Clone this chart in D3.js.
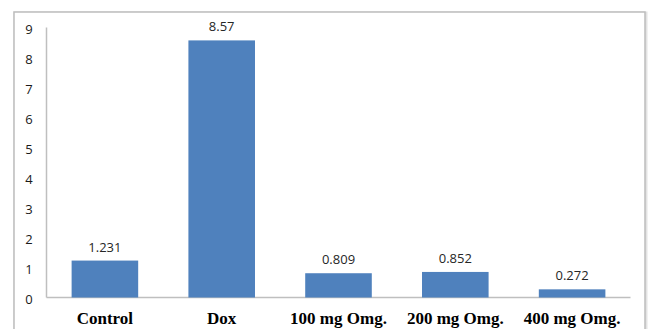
<!DOCTYPE html>
<html><head><meta charset="utf-8">
<script src="https://cdn.jsdelivr.net/npm/d3@7"></script>
<style>body{margin:0;background:#fff}svg{display:block}</style>
</head><body>
<svg id="c" width="648" height="329"></svg>
<script>
const categories = ["Control", "Dox", "100 mg Omg.", "200 mg Omg.", "400 mg Omg."];
const values = [1.231, 8.57, 0.809, 0.852, 0.272];
const valueLabels = ["1.231", "8.57", "0.809", "0.852", "0.272"];
const yTicks = [0, 1, 2, 3, 4, 5, 6, 7, 8, 9];

const svg = d3.select("#c");
// outer frame
svg.append("rect").attr("x", 15).attr("y", 13).attr("width", 631).attr("height", 330)
  .attr("fill", "none").attr("stroke", "#e3e3e3").attr("stroke-width", 3);
svg.append("rect").attr("x", 14).attr("y", 12).attr("width", 631).attr("height", 330)
  .attr("fill", "#fff").attr("stroke", "#bdbdbd").attr("stroke-width", 1.5);

const x = d3.scaleBand().domain(categories).range([46.5, 630.5]).paddingInner(0.43).paddingOuter(0.215);
const y = d3.scaleLinear().domain([0, 9]).range([297.5, 27.5]);

// axes lines
svg.append("line").attr("x1", 46.5).attr("x2", 46.5).attr("y1", 27.5).attr("y2", 297.5)
  .attr("stroke", "#bfbfbf").attr("stroke-width", 1.5);
svg.append("line").attr("x1", 46.5).attr("x2", 630.5).attr("y1", 297.5).attr("y2", 297.5)
  .attr("stroke", "#bfbfbf").attr("stroke-width", 1.5);

// y tick labels
svg.append("g").selectAll("text").data(yTicks).join("text")
  .attr("x", 29).attr("y", d => y(d) + 6.5)
  .attr("text-anchor", "middle")
  .attr("font-family", "Open Sans, DejaVu Sans, sans-serif").attr("font-size", 13)
  .attr("fill", "#1a1a1a").text(d => d);

// bars
svg.append("g").selectAll("rect").data(values).join("rect")
  .attr("x", (d, i) => x(categories[i]))
  .attr("width", x.bandwidth())
  .attr("y", d => y(d))
  .attr("height", d => y(0) - y(d))
  .attr("fill", "#4f81bd");

// value labels
svg.append("g").selectAll("text").data(values).join("text")
  .attr("x", (d, i) => x(categories[i]) + x.bandwidth() / 2)
  .attr("y", d => y(d) - 9)
  .attr("text-anchor", "middle")
  .attr("font-family", "Open Sans, DejaVu Sans, sans-serif").attr("font-size", 13)
  .attr("fill", "#262626").text((d, i) => valueLabels[i]);

// category labels
svg.append("g").selectAll("text").data(categories).join("text")
  .attr("x", d => x(d) + x.bandwidth() / 2)
  .attr("y", 324)
  .attr("text-anchor", "middle")
  .attr("font-family", "Liberation Serif, Times New Roman, serif").attr("font-size", 17)
  .attr("font-weight", "bold").attr("fill", "#000").text(d => d);
</script>
</body></html>
